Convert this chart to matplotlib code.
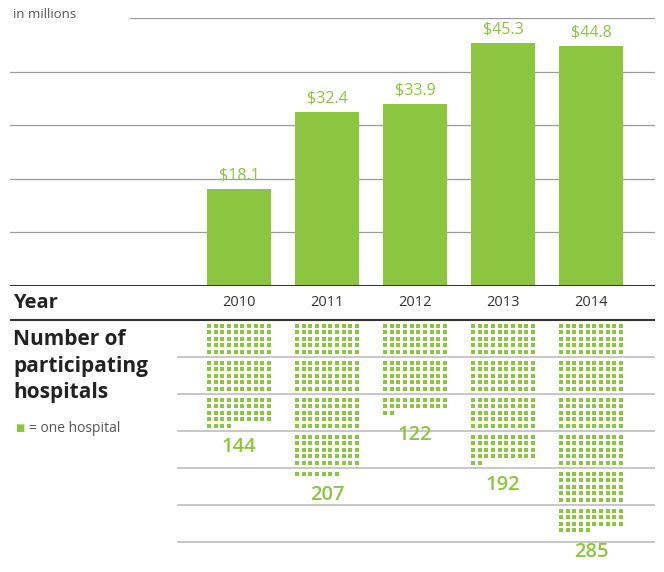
import numpy as np
import matplotlib
matplotlib.use("Agg")
import matplotlib.pyplot as plt

years = ["2010", "2011", "2012", "2013", "2014"]
funding = [18.1, 32.4, 33.9, 45.3, 44.8]   # in millions
hospitals = [144, 207, 122, 192, 285]
grid_values = [10, 20, 30, 40, 50]

GREEN = "#8cc540"
W, H = 664, 572
plt.rcParams["font.family"] = ["Open Sans", "DejaVu Sans"]

fig = plt.figure(figsize=(W / 100, H / 100), dpi=100)


def fy(px):
    return 1 - px / H


left, right = 10, 655
xlim = (-2.602, 4.727)
x = np.arange(len(years))

# funding bars
ax = fig.add_axes([left / W, fy(286), (right - left) / W, (286 - 18) / H])
ax.set_xlim(*xlim)
ax.set_ylim(0, 50)
ax.axis("off")
ax.bar(x, funding, width=0.727, color=GREEN, zorder=2)
for v in grid_values[:-1]:
    ax.axhline(v, color="#9a9a9a", lw=0.9, zorder=0)
ax.axhline(grid_values[-1], xmin=(130 - left) / (right - left), color="#9a9a9a", lw=0.9, zorder=0)
ax.axhline(0, color="#333333", lw=1.5, zorder=3)
for xi, v in zip(x, funding):
    ax.annotate(f"${v}", (xi, v), xytext=(0, 4), textcoords="offset points",
                ha="center", va="bottom", color=GREEN, fontsize=11.5)

fig.text(13 / W, fy(15), "in millions", color="#555555", fontsize=9.5, va="center")

# hospitals dot grid, one block = 50 hospitals
block = 37.0
bx = fig.add_axes([left / W, 0, (right - left) / W, 286 / H])
bx.set_xlim(*xlim)
bx.set_ylim((H - 320) / block, -(320 - 286) / block)
bx.axis("off")
bx.axhline(0, color="#333333", lw=1.5)
for k in range(1, 7):
    bx.axhline(k, xmin=(178 - left) / (right - left), color="#bdbdbd", lw=1.2)

row0 = 5.5 / block
pitch_y = 6.5 / block
pitch_x = 6.67 / 88
for xi, n, yr in zip(x, hospitals, years):
    idx = np.arange(n)
    b, rem = np.divmod(idx, 50)
    r, c = np.divmod(rem, 10)
    dx = xi + (c - 4.5) * pitch_x
    dy = b + row0 + r * pitch_y
    bx.scatter(dx, dy, marker="s", s=10.5, color=GREEN, linewidths=0)
    bx.text(xi, dy[-1] + 22 / block, str(n), ha="center", va="center",
            color=GREEN, fontsize=14.5, fontweight="semibold")
    bx.text(xi, -17 / block, yr, ha="center", va="center", color="#333333", fontsize=10.5)

fig.text(13 / W, fy(303), "Year", fontsize=14.5, fontweight="bold", color="#222222", va="center")
fig.text(13 / W, fy(329), "Number of\nparticipating\nhospitals", fontsize=15, fontweight="bold",
         color="#222222", va="top", linespacing=1.35)
fig.text(15 / W, fy(428), "\u25a0", color=GREEN, fontsize=7, va="center", family="DejaVu Sans")
fig.text(29 / W, fy(428), "= one hospital", color="#555555", fontsize=10, va="center")

fig.savefig("out.png", dpi=100)
